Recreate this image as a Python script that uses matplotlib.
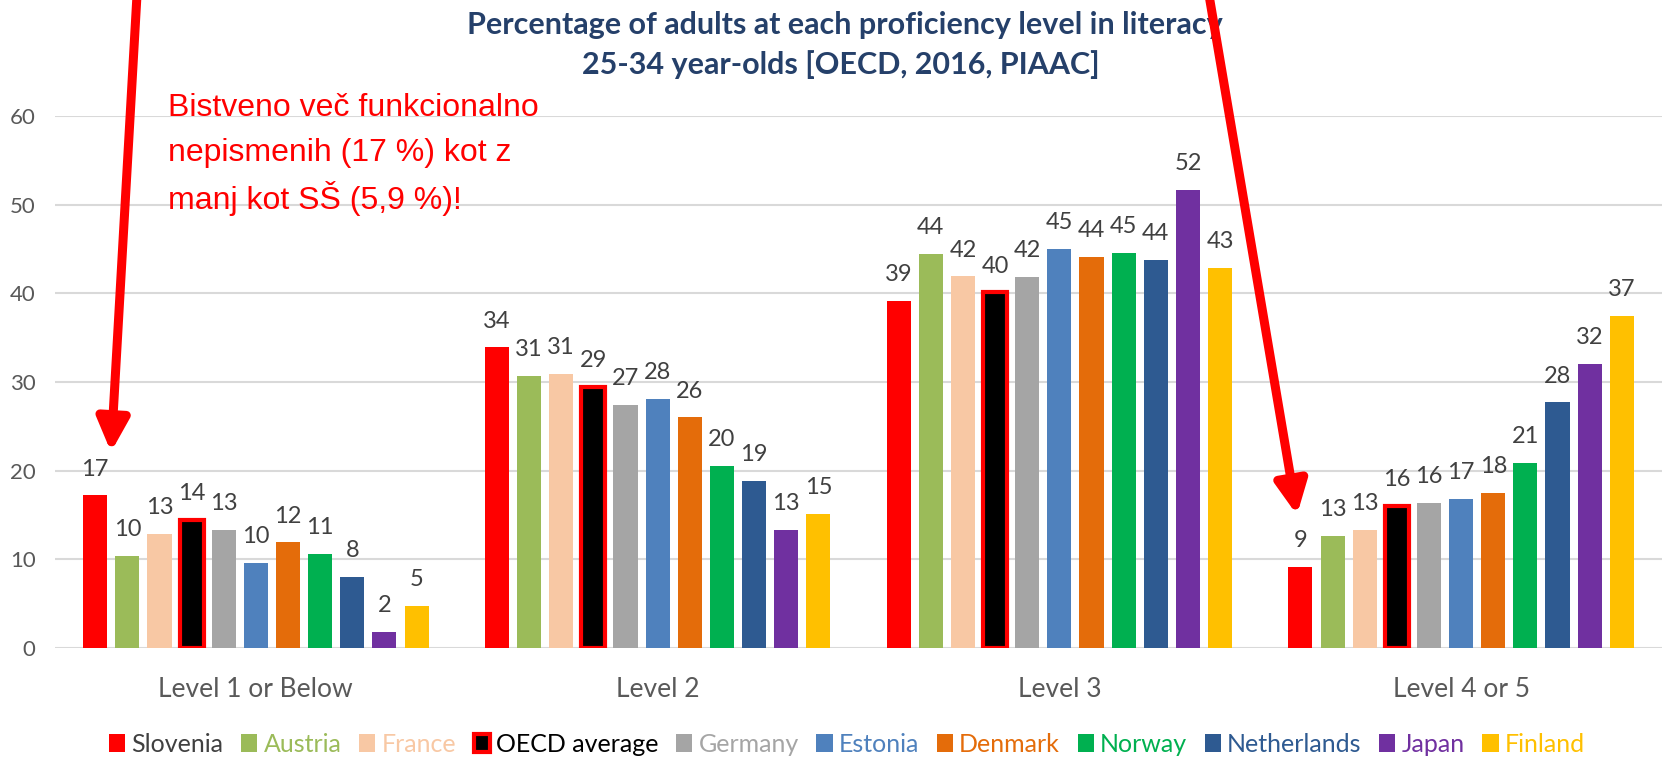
import numpy as np
import matplotlib
matplotlib.use("Agg")
import matplotlib.pyplot as plt
from matplotlib.patches import Patch, FancyArrowPatch
from matplotlib import font_manager

# dados do grafico
niveis = ['Level 1 or Below', 'Level 2', 'Level 3', 'Level 4 or 5']
paises = ['Slovenia', 'Austria', 'France', 'OECD average', 'Germany', 'Estonia',
          'Denmark', 'Norway', 'Netherlands', 'Japan', 'Finland']

slovenia = [17.2, 33.9, 39.1, 9.1]
austria = [10.4, 30.7, 44.4, 12.6]
france = [12.9, 30.9, 41.9, 13.3]
oecd = [14.4, 29.4, 40.1, 16.0]
germany = [13.3, 27.4, 41.8, 16.4]
estonia = [9.6, 28.1, 45.0, 16.8]
denmark = [11.9, 26.0, 44.1, 17.5]
norway = [10.6, 20.5, 44.6, 20.9]
netherlands = [8.0, 18.8, 43.8, 27.7]
japan = [1.8, 13.3, 51.7, 32.0]
finland = [4.7, 15.1, 42.9, 37.4]

valores = [slovenia, austria, france, oecd, germany, estonia,
           denmark, norway, netherlands, japan, finland]

cores = ['#FF0000', '#9BBB59', '#F8C8A4', '#000000', '#A5A5A5', '#4F81BD',
         '#E46C0A', '#00B050', '#2E5A91', '#7030A0', '#FFC000']
cores_texto = ['#404040', '#9BBB59', '#F8C8A4', '#000000', '#A5A5A5', '#4F81BD',
               '#E46C0A', '#00B050', '#2E5A91', '#7030A0', '#FFC000']

titulo = ['Percentage of adults at each proficiency level in literacy',
          '25-34 year-olds [OECD, 2016, PIAAC]']
nota = ['Bistveno več funkcionalno', 'nepismenih (17 %) kot z', 'manj kot SŠ (5,9 %)!']

# fontes
nomes = {f.name for f in font_manager.fontManager.ttflist}
fonte = 'Lato' if 'Lato' in nomes else 'DejaVu Sans'
if 'Liberation Sans Narrow' in nomes:
    fonte_nota, tam_nota = 'Liberation Sans Narrow', 27
else:
    fonte_nota, tam_nota = 'Liberation Sans', 23
plt.rcParams['font.family'] = [fonte, 'DejaVu Sans']

W, H = 1679, 759
fig = plt.figure(figsize=(W / 100, H / 100), dpi=100)
ax = fig.add_axes([55 / W, 1 - 648 / H, (1662 - 55) / W, (648 - 116) / H])

x = np.arange(len(niveis))
passo = 0.08
largura = 0.06

for j, (pais, vals, cor) in enumerate(zip(paises, valores, cores)):
    pos = x + (j - 5) * passo
    if pais == 'OECD average':
        barras = ax.bar(pos, vals, largura, color=cor, edgecolor='#FF0000', linewidth=3, zorder=3)
    else:
        barras = ax.bar(pos, vals, largura, color=cor, zorder=3)
    for b, v in zip(barras, vals):
        ax.annotate(f'{v:.0f}', (b.get_x() + b.get_width() / 2, v), xytext=(0, 19),
                    textcoords='offset points', ha='center', va='center',
                    fontsize=17, color='#404040')

ax.set_xlim(-0.5, 3.5)
ax.set_ylim(0, 60)
ax.set_yticks(range(0, 61, 10))
ax.set_xticks(x)
ax.set_xticklabels(niveis)
ax.grid(axis='y', color='#D9D9D9', linewidth=1.5)
ax.set_axisbelow(True)
for s in ax.spines.values():
    s.set_visible(False)
ax.tick_params(axis='both', length=0, labelcolor='#595959')
ax.tick_params(axis='y', labelsize=16, pad=14)
ax.tick_params(axis='x', labelsize=19, pad=21)

# titulo
fig.text(845 / W, 1 - 25 / H, titulo[0], ha='center', va='center', fontsize=22,
         fontweight='bold', color='#25406A')
fig.text(841 / W, 1 - 65 / H, titulo[1], ha='center', va='center', fontsize=22,
         fontweight='bold', color='#25406A')

# legenda
handles = []
for pais, cor in zip(paises, cores):
    if pais == 'OECD average':
        handles.append(Patch(facecolor=cor, edgecolor='#FF0000', linewidth=3))
    else:
        handles.append(Patch(facecolor=cor))
leg = fig.legend(handles, paises, loc='center', bbox_to_anchor=(847 / W, 1 - 744 / H),
                 ncol=len(paises), frameon=False, fontsize=18, handlelength=0.65,
                 handleheight=0.75, handletextpad=0.25, columnspacing=0.7)
for t, c in zip(leg.get_texts(), cores_texto):
    t.set_color(c)

# texto vermelho
for i, linha in enumerate(nota):
    fig.text(168 / W, 1 - (108 + i * 45.5) / H, linha, ha='left', va='center',
             fontsize=tam_nota, color='#FF0000', family=fonte_nota)

# setas vermelhas
for (x0, y0), (x1, y1) in [((137, -5), (111, 452)), ((1209, -5), (1297, 515))]:
    seta = FancyArrowPatch((x0 / W, 1 - y0 / H), (x1 / W, 1 - y1 / H),
                           transform=fig.transFigure,
                           arrowstyle='-|>,head_length=1.95,head_width=0.95',
                           mutation_scale=10, color='#FF0000', linewidth=6.5,
                           shrinkA=0, shrinkB=0, zorder=10)
    fig.add_artist(seta)

fig.savefig('out.png', dpi=100)
